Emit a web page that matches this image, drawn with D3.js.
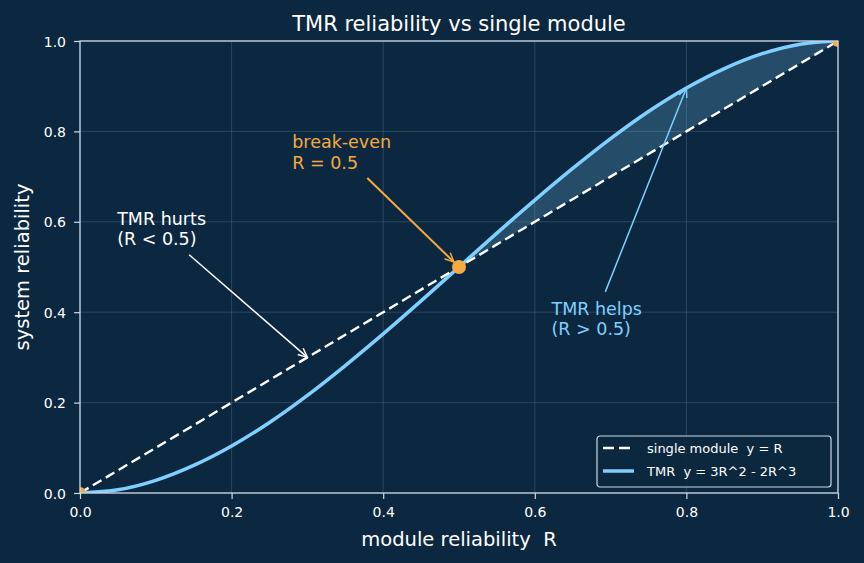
<!DOCTYPE html>
<html>
<head>
<meta charset="utf-8">
<script src="https://cdn.jsdelivr.net/npm/d3@7"></script>
<style>
  html, body { margin: 0; padding: 0; background: #0c2840; }
  svg { display: block; font-family: "DejaVu Sans", sans-serif; }
  svg text { white-space: pre; }
</style>
</head>
<body>
<div id="chart"></div>
<script>
// module reliability samples
var moduleR = [0, 0.05, 0.1, 0.15, 0.2, 0.25, 0.3, 0.35, 0.4, 0.45, 0.5,
               0.55, 0.6, 0.65, 0.7, 0.75, 0.8, 0.85, 0.9, 0.95, 1];
// single module: y = R
var singleY = [0, 0.05, 0.1, 0.15, 0.2, 0.25, 0.3, 0.35, 0.4, 0.45, 0.5,
               0.55, 0.6, 0.65, 0.7, 0.75, 0.8, 0.85, 0.9, 0.95, 1];
// TMR system reliability
var tmrY = [0, 0.007, 0.028, 0.061, 0.104, 0.156, 0.216, 0.282, 0.352, 0.425, 0.5,
            0.575, 0.648, 0.718, 0.784, 0.844, 0.896, 0.939, 0.972, 0.993, 1];
var markR = [0, 0.5, 1];
var tickVals = [0, 0.2, 0.4, 0.6, 0.8, 1.0];
var tickLabels = ["0.0", "0.2", "0.4", "0.6", "0.8", "1.0"];

var W = 864, H = 563;
var margin = { top: 41, right: 26, bottom: 70, left: 80 };
var iw = W - margin.left - margin.right,
    ih = H - margin.top - margin.bottom;

var bg = "#0c2840", frameCol = "#cbd8e6", tmrCol = "#7fd0ff", orange = "#f5a940";

var svg = d3.select("#chart").append("svg")
  .attr("width", W).attr("height", H);

svg.append("rect").attr("width", W).attr("height", H).attr("fill", bg);

var g = svg.append("g")
  .attr("transform", "translate(" + margin.left + "," + margin.top + ")");

var x = d3.scaleLinear().domain([0, 1]).range([0, iw]);
var y = d3.scaleLinear().domain([0, 1]).range([ih, 0]);

var defs = svg.append("defs");
defs.append("clipPath").attr("id", "plotclip")
  .append("rect").attr("width", iw).attr("height", ih);

// grid
g.selectAll("line.gx").data(tickVals).enter().append("line")
  .attr("x1", function (d) { return x(d); }).attr("x2", function (d) { return x(d); })
  .attr("y1", 0).attr("y2", ih)
  .attr("stroke", "#8fa8c0").attr("stroke-opacity", 0.3).attr("stroke-width", 0.8);
g.selectAll("line.gy").data(tickVals).enter().append("line")
  .attr("y1", function (d) { return y(d); }).attr("y2", function (d) { return y(d); })
  .attr("x1", 0).attr("x2", iw)
  .attr("stroke", "#8fa8c0").attr("stroke-opacity", 0.3).attr("stroke-width", 0.8);

var pts = moduleR.map(function (r, i) { return { r: r, s: singleY[i], t: tmrY[i] }; });
var plot = g.append("g").attr("clip-path", "url(#plotclip)");

// shaded area where TMR beats a single module
var helps = pts.filter(function (d) { return d.r >= 0.5; });
plot.append("path").datum(helps)
  .attr("d", d3.area()
    .x(function (d) { return x(d.r); })
    .y0(function (d) { return y(d.s); })
    .y1(function (d) { return y(d.t); })
    .curve(d3.curveMonotoneX))
  .attr("fill", tmrCol).attr("fill-opacity", 0.22);

plot.append("path").datum(pts)
  .attr("d", d3.line().x(function (d) { return x(d.r); }).y(function (d) { return y(d.t); })
    .curve(d3.curveMonotoneX))
  .attr("fill", "none").attr("stroke", tmrCol).attr("stroke-width", 3.5);

plot.append("path").datum(pts)
  .attr("d", d3.line().x(function (d) { return x(d.r); }).y(function (d) { return y(d.s); }))
  .attr("fill", "none").attr("stroke", "#ffffff").attr("stroke-width", 2.4)
  .attr("stroke-dasharray", "10,5");

plot.selectAll("circle.mk").data(markR).enter().append("circle")
  .attr("cx", function (d) { return x(d); }).attr("cy", function (d) { return y(d); })
  .attr("r", function (d) { return d === 0.5 ? 7 : 6; })
  .attr("fill", orange);

// axes
var xAxis = g.append("g").attr("transform", "translate(0," + ih + ")")
  .call(d3.axisBottom(x).tickValues(tickVals).tickSize(6).tickPadding(8)
    .tickFormat(function (d, i) { return tickLabels[i]; }));
var yAxis = g.append("g")
  .call(d3.axisLeft(y).tickValues(tickVals).tickSize(6).tickPadding(8)
    .tickFormat(function (d, i) { return tickLabels[i]; }));
[xAxis, yAxis].forEach(function (a) {
  a.select(".domain").remove();
  a.selectAll("line").attr("stroke", frameCol).attr("stroke-width", 1.2);
  a.selectAll("text").attr("fill", "#ffffff").style("font-size", "14px")
    .style("font-family", "DejaVu Sans, sans-serif");
});
yAxis.selectAll("text").attr("dy", "0.36em");

// frame
g.append("rect").attr("width", iw).attr("height", ih)
  .attr("fill", "none").attr("stroke", frameCol).attr("stroke-width", 1.3);

// titles
svg.append("text").attr("x", margin.left + iw / 2).attr("y", 30.5)
  .attr("text-anchor", "middle").attr("fill", "#ffffff").style("font-size", "21px")
  .text("TMR reliability vs single module");
svg.append("text").attr("x", margin.left + iw / 2).attr("y", 545.5)
  .attr("text-anchor", "middle").attr("fill", "#ffffff").style("font-size", "19.5px")
  .text("module reliability  R");
svg.append("text")
  .attr("transform", "translate(28.5," + (margin.top + ih / 2) + ") rotate(-90)")
  .attr("text-anchor", "middle").attr("fill", "#ffffff").style("font-size", "19.5px")
  .text("system reliability");

// annotations
function marker(id, color) {
  defs.append("marker").attr("id", id).attr("viewBox", "0 0 12 12")
    .attr("refX", 11).attr("refY", 6).attr("markerWidth", 11).attr("markerHeight", 11)
    .attr("orient", "auto").attr("markerUnits", "userSpaceOnUse")
    .append("path").attr("d", "M1,1.5 L11,6 L1,10.5").attr("fill", "none")
    .attr("stroke", color).attr("stroke-width", 1.6);
}
marker("arW", "#ffffff");
marker("arO", orange);
marker("arB", tmrCol);

var notes = [
  { lines: ["break-even", "R = 0.5"], tx: 0.280, ty: 0.763, fx: 0.379, fy: 0.697, ax: 0.5, ay: 0.5, color: orange, m: "arO", pad: 7, w: 2 },
  { lines: ["TMR hurts", "(R < 0.5)"], tx: 0.049, ty: 0.593, fx: 0.144, fy: 0.527, ax: 0.3, ay: 0.3, color: "#ffffff", m: "arW", pad: 0, w: 1.5 },
  { lines: ["TMR helps", "(R > 0.5)"], tx: 0.622, ty: 0.394, fx: 0.693, fy: 0.445, ax: 0.8, ay: 0.896, color: tmrCol, m: "arB", pad: 0, w: 1.5 }
];
notes.forEach(function (n) {
  var x1 = x(n.fx), y1 = y(n.fy), x2 = x(n.ax), y2 = y(n.ay);
  var len = Math.hypot(x2 - x1, y2 - y1);
  x2 -= (x2 - x1) / len * n.pad; y2 -= (y2 - y1) / len * n.pad;
  g.append("line").attr("x1", x1).attr("y1", y1).attr("x2", x2).attr("y2", y2)
    .attr("stroke", n.color).attr("stroke-width", n.w).attr("marker-end", "url(#" + n.m + ")");
  var t = g.append("text").attr("x", x(n.tx)).attr("y", y(n.ty))
    .attr("fill", n.color).style("font-size", "17.5px");
  n.lines.forEach(function (s, i) {
    t.append("tspan").attr("x", x(n.tx)).attr("dy", i === 0 ? 0 : 20.5).text(s);
  });
});

// legend
var lg = g.append("g").attr("transform", "translate(" + (517) + "," + (395) + ")");
lg.append("rect").attr("width", 234).attr("height", 51).attr("rx", 3)
  .attr("fill", bg).attr("fill-opacity", 0.85)
  .attr("stroke", frameCol).attr("stroke-width", 1.2);
var legItems = [
  { label: "single module  y = R", color: "#ffffff", dash: "11,5", w: 2.4 },
  { label: "TMR  y = 3R^2 - 2R^3", color: tmrCol, dash: null, w: 3.5 }
];
legItems.forEach(function (d, i) {
  var yy = 12 + i * 23;
  lg.append("line").attr("x1", 6).attr("x2", 37).attr("y1", yy).attr("y2", yy)
    .attr("stroke", d.color).attr("stroke-width", d.w).attr("stroke-dasharray", d.dash);
  lg.append("text").attr("x", 50).attr("y", yy + 5).attr("fill", "#ffffff")
    .style("font-size", "13px").text(d.label);
});
</script>
</body>
</html>
